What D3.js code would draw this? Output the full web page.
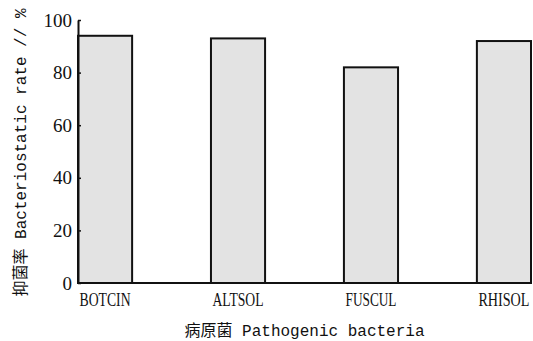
<!DOCTYPE html>
<html>
<head>
<meta charset="utf-8">
<script src="https://cdn.jsdelivr.net/npm/d3@7"></script>
<style>
  body { margin: 0; background: #fff; }
  text { fill: #111; }
</style>
</head>
<body>
<svg id="chart" width="533" height="341"></svg>
<script>
// bar values
var pathogens = ["BOTCIN", "ALTSOL", "FUSCUL", "RHISOL"];
var inhibition = [94, 93, 82, 92];
var yTicks = [0, 20, 40, 60, 80, 100];

var svg = d3.select("#chart");
var plotLeft = 78, plotRight = 531, plotTop = 20, plotBottom = 283;

var x = d3.scaleBand()
  .domain(pathogens)
  .range([plotLeft, plotRight])
  .paddingInner(0.593)
  .paddingOuter(0);

var y = d3.scaleLinear().domain([0, 100]).range([plotBottom, plotTop]);

// bars
svg.selectAll("rect.bar")
  .data(pathogens)
  .enter().append("rect")
    .attr("class", "bar")
    .attr("x", function(d) { return x(d); })
    .attr("y", function(d, i) { return y(inhibition[i]); })
    .attr("width", x.bandwidth())
    .attr("height", function(d, i) { return plotBottom - y(inhibition[i]); })
    .style("fill", "#e3e3e3")
    .style("stroke", "#111")
    .style("stroke-width", 2);

// y axis, ticks point inwards
var yAxis = svg.append("g")
  .attr("transform", "translate(" + plotLeft + ",0)")
  .call(d3.axisRight(y).tickValues(yTicks).tickSize(3).tickSizeOuter(0));
yAxis.select(".domain").style("stroke", "#111").style("stroke-width", 2);
yAxis.selectAll(".tick line").style("stroke", "#111").style("stroke-width", 1.5);
yAxis.selectAll(".tick text")
  .attr("x", -6)
  .attr("dy", "0.32em")
  .attr("text-anchor", "end")
  .style("font-family", "'Liberation Serif', serif")
  .style("font-size", "19px");

// x axis baseline and labels
var xAxis = svg.append("g")
  .attr("transform", "translate(0," + plotBottom + ")")
  .call(d3.axisBottom(x).tickSize(0).tickSizeOuter(0));
xAxis.select(".domain")
  .attr("d", "M" + plotLeft + ",0H" + plotRight)
  .style("stroke", "#111").style("stroke-width", 2);
xAxis.selectAll(".tick text")
  .attr("y", 23)
  .attr("dy", null)
  .style("font-family", "'Liberation Serif', serif")
  .style("font-size", "19px")
  .attr("textLength", 51)
  .attr("lengthAdjust", "spacingAndGlyphs");

// axis titles
svg.append("text")
  .attr("x", (plotLeft + plotRight) / 2)
  .attr("y", 336)
  .attr("text-anchor", "middle")
  .style("font-family", "'Liberation Mono', 'Noto Sans CJK SC', monospace")
  .style("font-size", "16px")
  .text("病原菌 Pathogenic bacteria");

svg.append("text")
  .attr("transform", "translate(26," + ((plotTop + plotBottom) / 2 + 1) + ") rotate(-90)")
  .attr("text-anchor", "middle")
  .style("font-family", "'Liberation Mono', 'Noto Sans CJK SC', monospace")
  .style("font-size", "16px")
  .text("抑菌率 Bacteriostatic rate // %");
</script>
</body>
</html>
